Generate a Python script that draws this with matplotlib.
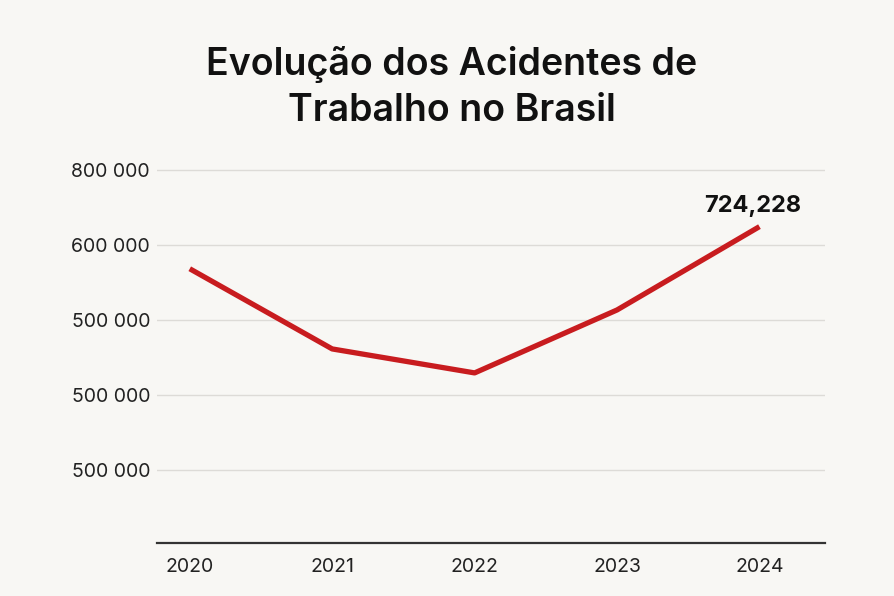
import matplotlib.pyplot as plt

# dados
anos = [2020, 2021, 2022, 2023, 2024]
acidentes = [668000, 561000, 529000, 613000, 724228]
yticks = [400000, 500000, 600000, 700000, 800000]
ytick_labels = ['500 000', '500 000', '500 000', '600 000', '800 000']
rotulo_final = '724,228'

plt.rcParams['font.family'] = ['Inter', 'DejaVu Sans']

fig = plt.figure(figsize=(8.94, 5.96), dpi=100, facecolor='#f8f7f4')
ax = fig.add_axes([0.1756, 0.0889, 0.7472, 0.645])
ax.set_facecolor('#f8f7f4')

ax.plot(anos, acidentes, color='#c81c1f', linewidth=3.8, solid_capstyle='butt')
ax.annotate(rotulo_final, (anos[-1], acidentes[-1]), xytext=(-5, 15),
            textcoords='offset points', ha='center', va='center',
            fontsize=17, fontweight='bold', color='#111111')

ax.set_xlim(2019.77, 2024.46)
ax.set_ylim(302000, 815000)
ax.set_xticks(anos)
ax.set_xticklabels([str(a) for a in anos], fontsize=14, color='#222222')
ax.set_yticks(yticks)
ax.set_yticklabels(ytick_labels, fontsize=14, color='#222222')
ax.tick_params(length=0)
ax.tick_params(axis='x', pad=11)
ax.tick_params(axis='y', pad=5)
ax.grid(axis='y', color='#dddbd7', linewidth=1)
for s in ['top', 'right', 'left']:
    ax.spines[s].set_visible(False)
ax.spines['bottom'].set_color('#333333')
ax.spines['bottom'].set_linewidth(1.6)

fig.text(0.505, 0.853, 'Evolução dos Acidentes de\nTrabalho no Brasil', ha='center', va='center',
         fontsize=27, fontweight='semibold', color='#111111', linespacing=1.38)

plt.savefig('out.png', dpi=100, facecolor=fig.get_facecolor())
